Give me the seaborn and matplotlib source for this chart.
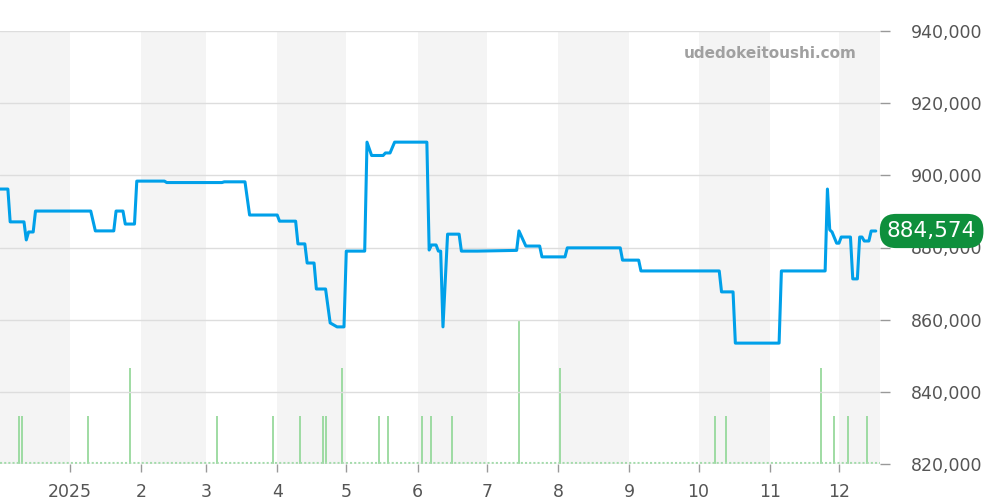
import pandas as pd
import seaborn as sns
import matplotlib.pyplot as plt
from matplotlib.ticker import FuncFormatter

# price history (change points)
price_dates = [
    "2024-12-01", "2024-12-05", "2024-12-06", "2024-12-12", "2024-12-13", "2024-12-14",
    "2024-12-16", "2024-12-17", "2025-01-10", "2025-01-12", "2025-01-20", "2025-01-21",
    "2025-01-24", "2025-01-25", "2025-01-29", "2025-01-30", "2025-02-11", "2025-02-12",
    "2025-03-08", "2025-03-09", "2025-03-18", "2025-03-20", "2025-04-01", "2025-04-02",
    "2025-04-09", "2025-04-10", "2025-04-13", "2025-04-14", "2025-04-17", "2025-04-18",
    "2025-04-22", "2025-04-24", "2025-04-27", "2025-04-30", "2025-05-01", "2025-05-09",
    "2025-05-10", "2025-05-12", "2025-05-17", "2025-05-18", "2025-05-20", "2025-05-22",
    "2025-06-05", "2025-06-06", "2025-06-07", "2025-06-09", "2025-06-10", "2025-06-11",
    "2025-06-12", "2025-06-14", "2025-06-19", "2025-06-20", "2025-06-27", "2025-07-14",
    "2025-07-15", "2025-07-18", "2025-07-24", "2025-07-25", "2025-08-04", "2025-08-05",
    "2025-08-28", "2025-08-29", "2025-09-05", "2025-09-06", "2025-10-10", "2025-10-11",
    "2025-10-16", "2025-10-17", "2025-11-05", "2025-11-06", "2025-11-25", "2025-11-26",
    "2025-11-27", "2025-11-28", "2025-11-30", "2025-12-01", "2025-12-02", "2025-12-06",
    "2025-12-07", "2025-12-09", "2025-12-10", "2025-12-11", "2025-12-12", "2025-12-14",
    "2025-12-15", "2025-12-17",
]
price_values = [
    896200, 896200, 887100, 887100, 882100, 884300,
    884300, 890100, 890100, 884600, 884600, 890100,
    890100, 886500, 886500, 898400, 898400, 898000,
    898000, 898200, 898200, 889000, 889000, 887300,
    887300, 881000, 881000, 875700, 875700, 868500,
    868500, 859100, 858000, 858000, 879000, 879000,
    909200, 905500, 905500, 906200, 906200, 909200,
    909200, 879300, 880700, 880700, 879000, 879000,
    858000, 883700, 883700, 879000, 879000, 879200,
    884600, 880400, 880400, 877400, 877400, 879900,
    879900, 876500, 876500, 873500, 873500, 867700,
    867700, 853500, 853500, 873500, 873500, 896200,
    884900, 884300, 881200, 881200, 882900, 882900,
    871300, 871300, 882900, 882900, 881800, 881800,
    884574, 884574,
]

# listing counts (green bars)
volume_dates = [
    "2024-12-10", "2024-12-11", "2025-01-09", "2025-01-27", "2025-03-06", "2025-03-30",
    "2025-04-11", "2025-04-21", "2025-04-22", "2025-04-29", "2025-05-15", "2025-05-19",
    "2025-06-03", "2025-06-07", "2025-06-16", "2025-07-15", "2025-08-02", "2025-10-08",
    "2025-10-13", "2025-11-23", "2025-11-29", "2025-12-05", "2025-12-13",
]
volume_counts = [1, 1, 1, 2, 1, 1, 1, 1, 1, 2, 1, 1, 1, 1, 1, 3, 2, 1, 1, 2, 1, 1, 1]

last_price = 884574

df = pd.DataFrame({"date": pd.to_datetime(price_dates), "price": price_values})
vol = pd.DataFrame({"date": pd.to_datetime(volume_dates), "count": volume_counts})

sns.set_style("white")
fig = plt.figure(figsize=(10, 5), dpi=100)
ax = fig.add_axes([0.0, 0.072, 0.88, 0.866])
ax2 = ax.twinx()

x0, x1 = pd.Timestamp("2024-12-01 14:00"), pd.Timestamp("2025-12-18 20:00")

# ax2 sits at the back: month shading + volume bars
ax2.set_zorder(0)
ax.set_zorder(1)
ax.patch.set_visible(False)

months = pd.date_range("2024-12-01", "2026-01-01", freq="MS")
for i in range(0, len(months) - 1, 2):
    ax2.axvspan(months[i], months[i + 1], color="#f4f4f4", lw=0, zorder=0)

ax2.vlines(vol["date"], 0, vol["count"], color="#8fd694", lw=1.2, zorder=2)
ax2.axhline(0.03, color="#a3dcab", lw=1.5, ls=(0, (1, 1)), zorder=2)
ax2.set_ylim(0, 9.02)
ax2.set_yticks([])

# price line
ax.grid(axis="y", color="#dddddd", lw=1)
sns.lineplot(data=df, x="date", y="price", ax=ax, color="#00a0e9", lw=2.2, zorder=5)

ax.set_xlim(x0, x1)
ax2.set_xlim(x0, x1)
ax.set_ylim(820000, 940000)
ax.set_yticks(range(820000, 940001, 20000))
ax.yaxis.tick_right()
ax.yaxis.set_major_formatter(FuncFormatter(lambda v, p: f"{int(v):,}"))
ax.set_xlabel("")
ax.set_ylabel("")

ticks = pd.date_range("2025-01-01", "2025-12-01", freq="MS")
ax.set_xticks(ticks)
ax.set_xticklabels(["2025" if t.month == 1 else str(t.month) for t in ticks])

ax.tick_params(axis="y", right=True, length=7, width=1, color="#999999",
               labelcolor="#555555", labelsize=12.5, pad=15)
ax.tick_params(axis="x", bottom=True, length=6, width=1, color="#999999",
               labelcolor="#555555", labelsize=12.5, pad=8)
for s in ["top", "left", "right", "bottom"]:
    ax.spines[s].set_visible(False)
    ax2.spines[s].set_visible(False)

# watermark
ax.text(0.974, 0.949, "udedokeitoushi.com", transform=ax.transAxes, ha="right", va="center",
        fontsize=11, fontweight="bold", color="#a0a0a0")

# last price label
ax.annotate(f"{last_price:,}", xy=(1.0, last_price), xycoords=("axes fraction", "data"),
            xytext=(5, 0), textcoords="offset points", ha="left", va="center",
            fontsize=15.5, color="white", zorder=10, annotation_clip=False,
            bbox=dict(boxstyle="round,pad=0.33,rounding_size=0.75", fc="#0e8f3c", ec="none"))

fig.savefig("out.png", dpi=100)
